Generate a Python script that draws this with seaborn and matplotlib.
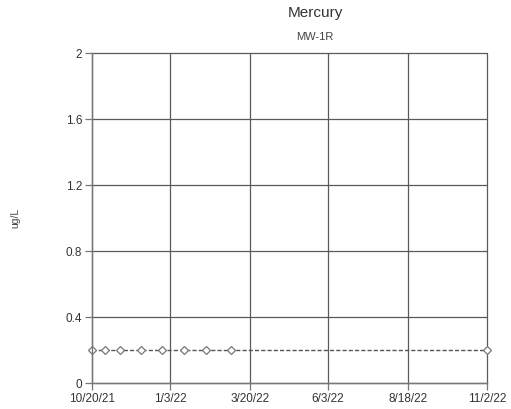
import matplotlib
matplotlib.use("Agg")
import matplotlib.pyplot as plt
import seaborn as sns
import pandas as pd

# Sample dates and mercury results (ug/L)
sample_dates = ["2021-10-20", "2021-11-01", "2021-11-16", "2021-12-06",
                "2021-12-26", "2022-01-16", "2022-02-06", "2022-03-02",
                "2022-11-02"]
mercury = [0.2, 0.2, 0.2, 0.2, 0.2, 0.2, 0.2, 0.2, 0.2]

x_ticks = ["2021-10-20", "2022-01-03", "2022-03-20", "2022-06-03",
           "2022-08-18", "2022-11-02"]
x_tick_labels = ["10/20/21", "1/3/22", "3/20/22", "6/3/22", "8/18/22", "11/2/22"]
y_ticks = [0, 0.4, 0.8, 1.2, 1.6, 2]
y_tick_labels = ["0", "0.4", "0.8", "1.2", "1.6", "2"]

df = pd.DataFrame({"date": pd.to_datetime(sample_dates), "value": mercury})

sns.set_theme(style="white")
plt.rcParams["font.family"] = ["Liberation Sans", "DejaVu Sans"]

fig = plt.figure(figsize=(5.11, 4.09), dpi=100)
ax = fig.add_axes([92 / 511, 1 - 383 / 409, (487 - 92) / 511, (383 - 53) / 409])

sns.lineplot(data=df, x="date", y="value", ax=ax, color="#555555",
             linewidth=1.0, linestyle=(0, (3, 1.5)), marker="D",
             markersize=4.5, markerfacecolor="white", markeredgecolor="#777777",
             markeredgewidth=0.9, clip_on=False)

tick_dates = pd.to_datetime(x_ticks)
ax.set_xlim(tick_dates[0], tick_dates[-1])
ax.set_ylim(0, 2)
ax.set_xticks(tick_dates)
ax.set_xticklabels(x_tick_labels)
ax.set_yticks(y_ticks)
ax.set_yticklabels(y_tick_labels)

ax.grid(True, color="#5a5a5a", linewidth=0.9)
for gl in ax.get_xgridlines() + ax.get_ygridlines():
    gl.set_clip_on(False)
ax.set_axisbelow(True)
for side in ["left", "bottom"]:
    ax.spines[side].set_color("#777777")
    ax.spines[side].set_linewidth(1.0)
for side in ["top", "right"]:
    ax.spines[side].set_visible(False)

ax.tick_params(axis="both", which="major", length=5, width=0.9,
               color="#777777", labelsize=8.5, labelcolor="#333333",
               direction="out", bottom=True, left=True, pad=2)
ax.set_xlabel("")
ax.set_ylabel("")

fig.text(15 / 511, 1 - 218 / 409, "ug/L", rotation=90, ha="center",
         va="center", fontsize=7.5, color="#444444")
fig.text(315 / 511, 1 - 13 / 409, "Mercury", ha="center", va="center",
         fontsize=11, color="#333333")
fig.text(315 / 511, 1 - 37 / 409, "MW-1R", ha="center", va="center",
         fontsize=8, color="#444444")

fig.savefig("out.png", dpi=100)
